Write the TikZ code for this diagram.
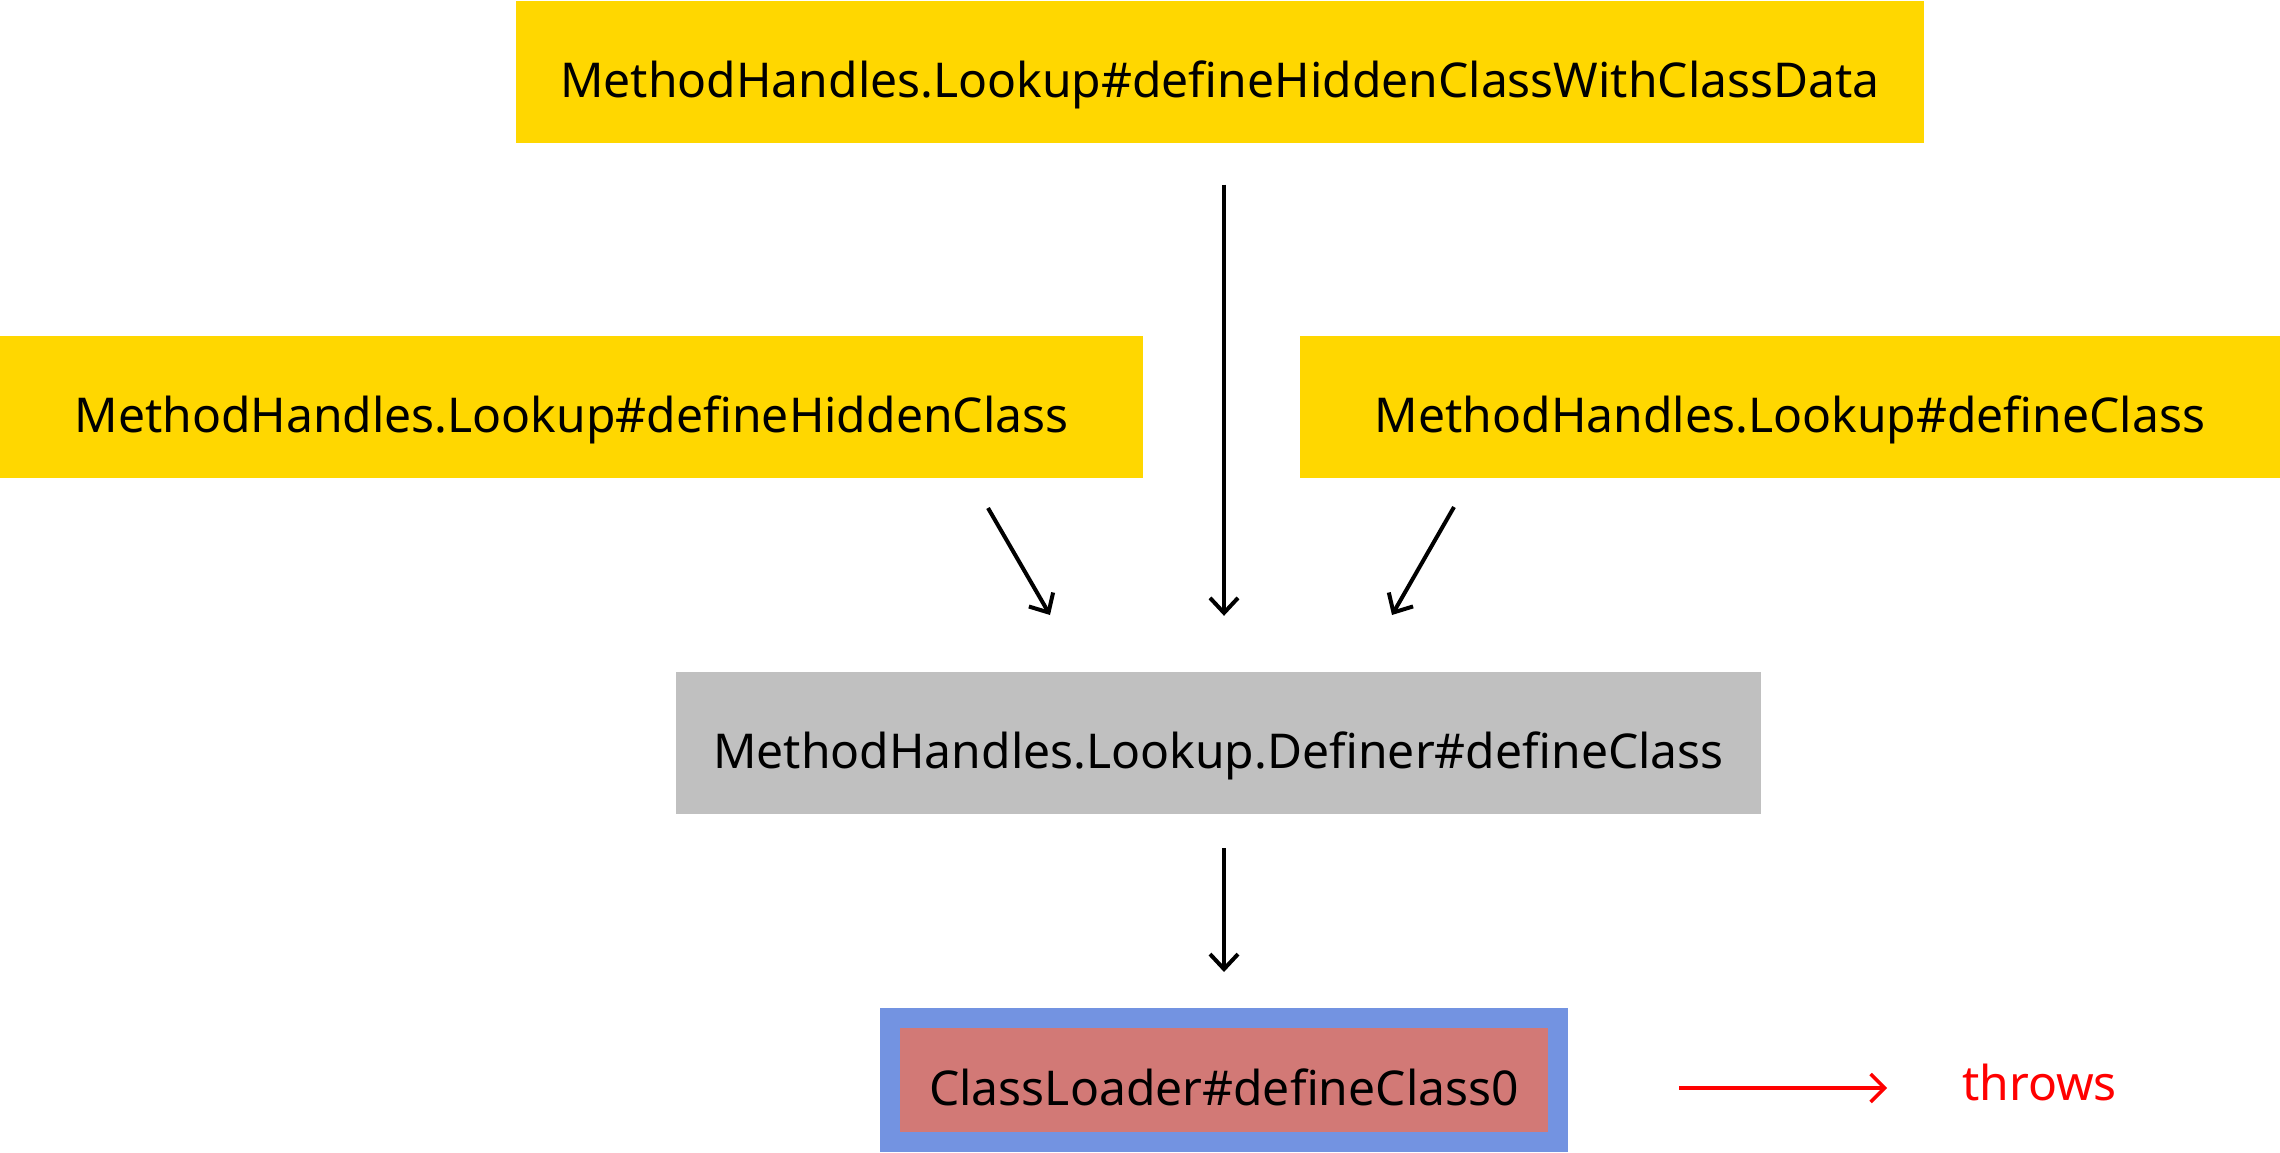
\documentclass[tikz,border=0pt]{standalone}
\usepackage{fontspec}
\setmainfont{Noto Sans}
\usepackage{tikz}
\usetikzlibrary{arrows.meta,positioning}
\definecolor{gold}{HTML}{FFD700}
\definecolor{silver}{HTML}{C0C0C0}
\definecolor{frameblue}{HTML}{7393E1}
\definecolor{rose}{HTML}{D27976}

\begin{document}
\begin{tikzpicture}[x=1pt, y=-1pt, every node/.style={font=\fontsize{48}{54}\selectfont, inner sep=0pt},
	box/.style={minimum height=142pt, text height=51pt, text depth=0pt},
	arr/.style={line width=4pt, -{Straight Barb[length=15pt,width=28pt,line width=4pt]}}]
				\useasboundingbox (0,0) rectangle (2280,1152);

				\node[box, fill=gold, minimum width=1408pt] (withdata) at (1220,71.5) {MethodHandles.Lookup\#defineHiddenClassWithClassData};
				\node[box, fill=gold, minimum width=1143pt] (hidden) at (571.5,407) {MethodHandles.Lookup\#defineHiddenClass};
				\node[box, fill=gold, minimum width=980pt] (define) at (1790,407) {MethodHandles.Lookup\#defineClass};
				\node[box, fill=silver, minimum width=1085pt] (definer) at (1218.5,743) {MethodHandles.Lookup.Definer\#defineClass};
				\node[box, fill=rose, draw=frameblue, line width=20pt, minimum width=668pt, minimum height=124pt] (loader) at (1224,1080) {ClassLoader\#defineClass0};

				\coordinate (axis) at (1224,0);
				\coordinate (hs) at (988,508);
				\coordinate (he) at (1050,615);
				\coordinate (ds) at (1454,507);
				\coordinate (de) at (1392,615);
				\draw[arr] (hs) -- (he);
				\draw[arr] (ds) -- (de);
				\draw[arr, shorten <=42pt, shorten >=56pt] (withdata.south -| axis) -- (definer.north -| axis);
				\draw[arr, shorten <=34pt, shorten >=36pt] (definer.south -| axis) -- (loader.north -| axis);

				\node[red, anchor=base west] (throws) at (1962,1100) {throws};
				\coordinate (ts) at (1679,1088);
				\draw[red, line width=3.5pt, -{Straight Barb[length=14pt,width=28pt,line width=3.5pt]}] (ts) -- ([xshift=-75pt]ts -| throws.west);

			\end{tikzpicture}
\end{document}
